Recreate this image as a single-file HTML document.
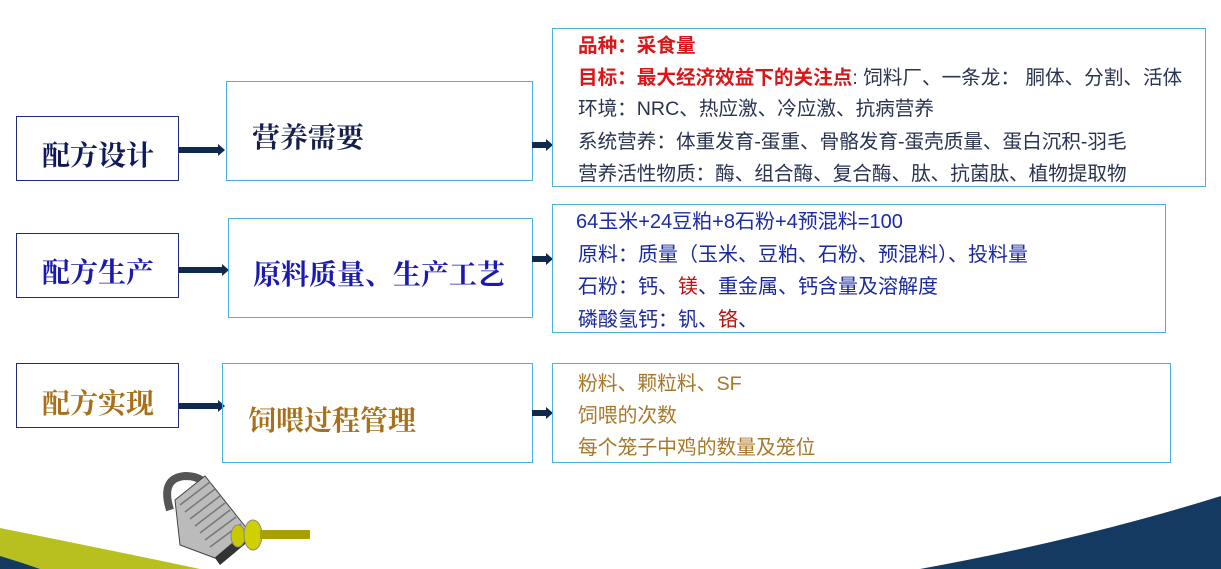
<!DOCTYPE html>
<html><head><meta charset="utf-8"><style>
body{margin:0;width:1221px;height:569px;background:#fff;position:relative;overflow:hidden;font-family:"Liberation Sans","Noto Sans CJK SC",sans-serif}
.b{position:absolute;box-sizing:border-box}
.L{border:1.5px solid #1e2a7a}
.M{border:1.5px solid #4ab4d8}
.t{position:absolute;white-space:nowrap}
.serif{font-family:"Liberation Serif","Noto Serif CJK SC",serif;font-weight:bold}
.ar{position:absolute;height:6px;background:#0e2a4e}
.ar:after{content:"";position:absolute;right:-6px;top:-3px;border-left:7px solid #0e2a4e;border-top:6px solid transparent;border-bottom:6px solid transparent}
.r1{font-size:19.6px;color:#2a3350}
.r2{font-size:20px;color:#1a28a0}
.r3{font-size:19.8px;color:#a8782a}
.red{color:#d81818;font-weight:bold}
</style></head><body>
<!-- row1 -->
<div class="b L" style="left:16px;top:116px;width:163px;height:65px"></div>
<div class="t serif" style="left:42px;top:134px;font-size:28px;color:#101a5a">配方设计</div>
<div class="ar" style="left:179px;top:147px;width:40px"></div>
<div class="b M" style="left:226px;top:81px;width:307px;height:100px"></div>
<div class="t serif" style="left:252px;top:116px;font-size:28px;color:#16204e">营养需要</div>
<div class="ar" style="left:532px;top:142px;width:15px"></div>
<div class="b M" style="left:552px;top:28px;width:654px;height:159px"></div>
<div class="t r1" style="left:578px;top:29px"><span class="red">品种：采食量</span></div>
<div class="t r1" style="left:578px;top:61px"><span class="red">目标：最大经济效益下的关注点</span>: 饲料厂、一条龙： 胴体、分割、活体</div>
<div class="t r1" style="left:578px;top:92px">环境：NRC、热应激、冷应激、抗病营养</div>
<div class="t r1" style="left:578px;top:125px">系统营养：体重发育-蛋重、骨骼发育-蛋壳质量、蛋白沉积-羽毛</div>
<div class="t r1" style="left:578px;top:157px">营养活性物质：酶、组合酶、复合酶、肽、抗菌肽、植物提取物</div>
<!-- row2 -->
<div class="b L" style="left:16px;top:233px;width:163px;height:65px"></div>
<div class="t serif" style="left:42px;top:251px;font-size:28px;color:#1a1ab0">配方生产</div>
<div class="ar" style="left:179px;top:267px;width:44px"></div>
<div class="b M" style="left:228px;top:218px;width:305px;height:100px"></div>
<div class="t serif" style="left:253px;top:253px;font-size:28px;color:#1a1ab0">原料质量、生产工艺</div>
<div class="ar" style="left:532px;top:256px;width:15px"></div>
<div class="b M" style="left:552px;top:204px;width:614px;height:129px"></div>
<div class="t r2" style="left:576px;top:205px;font-size:20px;color:#1a2aa8">64玉米+24豆粕+8石粉+4预混料=100</div>
<div class="t r2" style="left:578px;top:238px">原料：质量（玉米、豆粕、石粉、预混料）、投料量</div>
<div class="t r2" style="left:578px;top:270px">石粉：钙、<span style="color:#c01010">镁</span>、重金属、钙含量及溶解度</div>
<div class="t r2" style="left:578px;top:303px">磷酸氢钙：钒、<span style="color:#c01010">铬</span>、</div>
<!-- row3 -->
<div class="b L" style="left:16px;top:363px;width:163px;height:65px"></div>
<div class="t serif" style="left:42px;top:382px;font-size:28px;color:#a8701a">配方实现</div>
<div class="ar" style="left:179px;top:403px;width:40px"></div>
<div class="b M" style="left:222px;top:363px;width:311px;height:100px"></div>
<div class="t serif" style="left:248px;top:399px;font-size:28px;color:#a8701a">饲喂过程管理</div>
<div class="ar" style="left:532px;top:410px;width:15px"></div>
<div class="b M" style="left:552px;top:363px;width:619px;height:100px"></div>
<div class="t r3" style="left:578px;top:367px">粉料、颗粒料、SF</div>
<div class="t r3" style="left:578px;top:399px">饲喂的次数</div>
<div class="t r3" style="left:578px;top:431px">每个笼子中鸡的数量及笼位</div>
<!-- bottom decor -->
<svg style="position:absolute;left:0;top:0" width="1221" height="569">
<path d="M0,528 Q100,548 200,569 L0,569Z" fill="#b8c020"/>
<path d="M0,556 Q20,562 40,569 L0,569Z" fill="#143a62"/>
<path d="M920,569 Q1080,540 1221,496 L1221,569Z" fill="#143a62"/>
<g>
<path d="M170,510 Q160,478 185,476 Q210,476 208,500" fill="none" stroke="#555" stroke-width="8"/>
<polygon points="175,500 205,476 248,530 215,558 180,545" fill="#bbb" stroke="#444"/>
<g stroke="#777" stroke-width="1.5">
<line x1="180" y1="505" x2="210" y2="482"/><line x1="185" y1="512" x2="215" y2="489"/>
<line x1="190" y1="519" x2="220" y2="496"/><line x1="195" y1="526" x2="225" y2="503"/>
<line x1="200" y1="533" x2="230" y2="510"/><line x1="205" y1="540" x2="236" y2="517"/>
<line x1="210" y1="547" x2="241" y2="524"/></g>
<polygon points="215,558 248,530 250,540 220,565" fill="#333"/>
<ellipse cx="238" cy="536" rx="7" ry="11" fill="#c8c800" stroke="#888"/>
<ellipse cx="253" cy="535" rx="9" ry="15" fill="#d0d000" stroke="#888"/>
<rect x="260" y="530" width="50" height="9" fill="#a8a000"/>
</g>
</svg>
</body></html>
